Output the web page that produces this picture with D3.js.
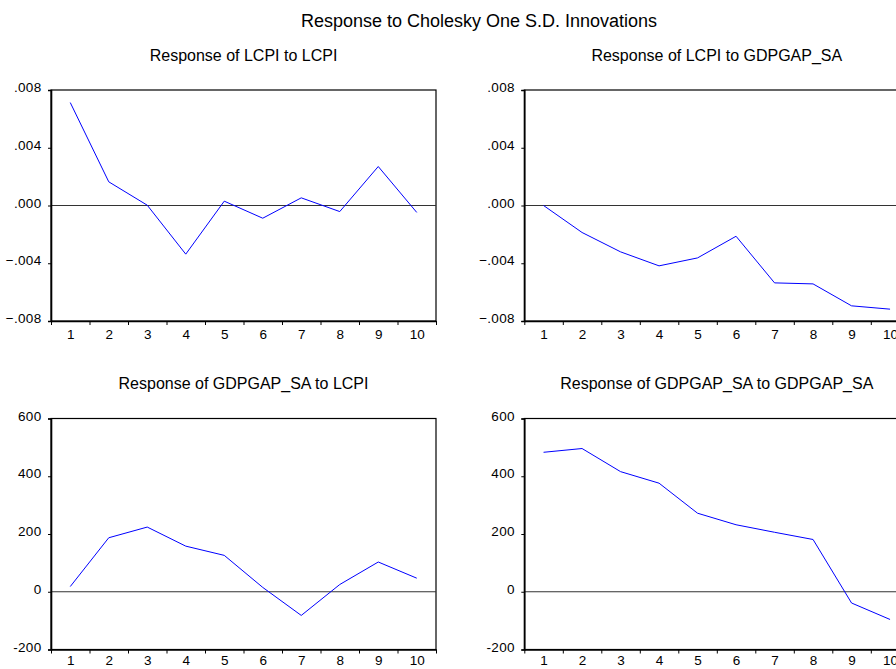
<!DOCTYPE html>
<html>
<head>
<meta charset="utf-8">
<script src="https://cdn.jsdelivr.net/npm/d3@7"></script>
<style>
  html, body { margin: 0; padding: 0; background: #fff; overflow: hidden; }
  svg { display: block; font-family: "Liberation Sans", Arial, sans-serif; }
</style>
</head>
<body>
<svg id="chart" width="896" height="669"></svg>
<script>
// ---------- data ----------
const periods = [1, 2, 3, 4, 5, 6, 7, 8, 9, 10];
const mainTitle = "Response to Cholesky One S.D. Innovations";
const panelTitles = [
  "Response of LCPI to LCPI",
  "Response of LCPI to GDPGAP_SA",
  "Response of GDPGAP_SA to LCPI",
  "Response of GDPGAP_SA to GDPGAP_SA"
];
const lcpiToLcpi = [0.00713, 0.00164, 0.00002, -0.00337, 0.00030, -0.00088, 0.00053, -0.00042, 0.00270, -0.00048];
const lcpiToGdpgap = [0.00000, -0.00187, -0.00321, -0.00418, -0.00363, -0.00213, -0.00536, -0.00543, -0.00695, -0.00718];
const gdpgapToLcpi = [18, 187, 224, 158, 126, 15, -82, 25, 103, 47];
const gdpgapToGdpgap = [483, 496, 416, 376, 272, 232, 206, 181, -39, -96];
const yTicksLcpi = [-0.008, -0.004, 0, 0.004, 0.008];
const yTicksGdp = [-200, 0, 200, 400, 600];

// ---------- layout ----------
const svg = d3.select("#chart");
const W = 385, H = 231;
const panels = [
  { x: 51,    y: 90,    series: lcpiToLcpi,     ticks: yTicksLcpi, title: panelTitles[0], pad: 8.5 },
  { x: 524.3, y: 90,    series: lcpiToGdpgap,   ticks: yTicksLcpi, title: panelTitles[1], pad: 8.5 },
  { x: 51,    y: 418.5, series: gdpgapToLcpi,   ticks: yTicksGdp,  title: panelTitles[2], pad: 6 },
  { x: 524.3, y: 418.5, series: gdpgapToGdpgap, ticks: yTicksGdp,  title: panelTitles[3], pad: 6 }
];

svg.append("text")
  .attr("x", 479).attr("y", 27)
  .attr("text-anchor", "middle")
  .attr("font-size", 18)
  .attr("fill", "#000")
  .text(mainTitle);

const fmtLcpi = d => d === 0 ? ".000" : d3.format(".3f")(d).replace("0.", ".");
const fmtGdp = d => String(d);

panels.forEach(p => {
  const g = svg.append("g").attr("transform", `translate(${p.x},${p.y})`);
  const x = d3.scaleLinear().domain([0.5, 10.5]).range([0, W]);
  const y = d3.scaleLinear().domain([p.ticks[0], p.ticks[p.ticks.length - 1]]).range([H, 0]);

  // title
  g.append("text")
    .attr("x", W / 2).attr("y", -29.5)
    .attr("text-anchor", "middle")
    .attr("font-size", 16)
    .attr("fill", "#000")
    .text(p.title);

  // frame
  g.append("rect")
    .attr("x", 0).attr("y", 0).attr("width", W).attr("height", H)
    .attr("fill", "none").attr("stroke", "#000").attr("stroke-width", 1.2);

  // zero line
  g.append("line")
    .attr("x1", 0).attr("x2", W)
    .attr("y1", y(0)).attr("y2", y(0))
    .attr("stroke", "#333").attr("stroke-width", 1.2);

  // y axis
  const ya = g.append("g")
    .call(d3.axisLeft(y).tickValues(p.ticks)
      .tickFormat(p.ticks === yTicksLcpi ? fmtLcpi : fmtGdp)
      .tickSize(3).tickPadding(6.5));
  ya.select(".domain").attr("stroke", "#000").attr("stroke-width", 1.6);
  ya.selectAll(".tick line").attr("stroke", "#000");
  ya.selectAll(".tick text")
    .attr("font-size", 13.5).attr("font-family", "Liberation Sans, Arial, sans-serif")
    .attr("letter-spacing", "0.3px")
    .attr("fill", "#000").attr("dy", "0.12em");

  // x axis: boundary ticks
  const xb = g.append("g").attr("transform", `translate(0,${H})`)
    .call(d3.axisBottom(x).tickValues(d3.range(0.5, 11, 1)).tickFormat("")
      .tickSize(4).tickSizeOuter(0));
  xb.select(".domain").attr("stroke", "#000").attr("stroke-width", 1.6);
  xb.selectAll(".tick line").attr("stroke", "#000");

  // x axis: labels at period centres
  const xl = g.append("g").attr("transform", `translate(0,${H})`)
    .call(d3.axisBottom(x).tickValues(periods).tickSize(0).tickPadding(p.pad));
  xl.select(".domain").remove();
  xl.selectAll(".tick text")
    .attr("font-size", 13.5).attr("font-family", "Liberation Sans, Arial, sans-serif")
    .attr("fill", "#000");

  // response line
  const line = d3.line().x((d, i) => x(periods[i])).y(d => y(d));
  g.append("path")
    .datum(p.series)
    .attr("d", line)
    .attr("fill", "none")
    .attr("stroke", "#0000ff")
    .attr("stroke-width", 1);
});
</script>
</body>
</html>
